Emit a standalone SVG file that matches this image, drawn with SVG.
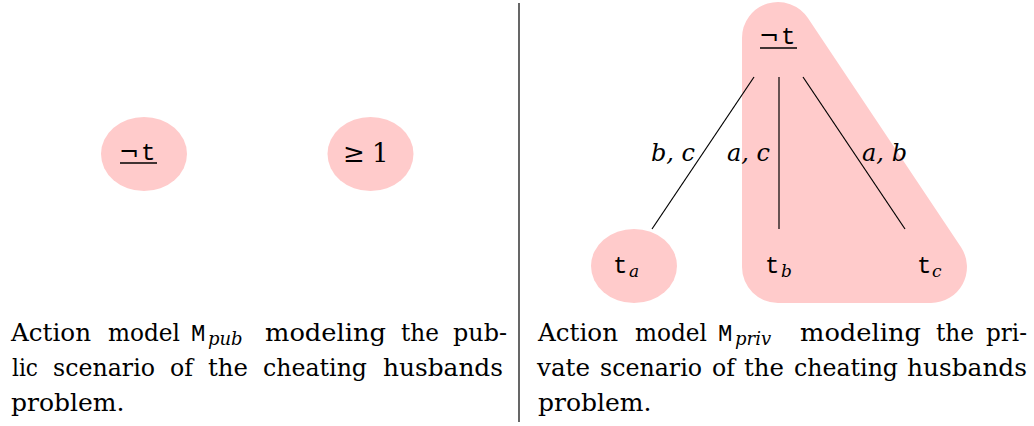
<svg xmlns="http://www.w3.org/2000/svg" width="1034" height="426" viewBox="0 0 1034 426">
<style>
.serif{font-family:"DejaVu Serif","Liberation Serif",serif;font-size:25px;fill:#000}
.it{font-style:italic}
.mono{font-family:"Liberation Mono","DejaVu Sans Mono",monospace;font-size:24px;fill:#000}
.sub{font-family:"DejaVu Serif","Liberation Serif",serif;font-style:italic;font-size:17px;fill:#000}
.csub{font-family:"DejaVu Serif","Liberation Serif",serif;font-style:italic;font-size:18px;fill:#000}
.neg{font-family:"DejaVu Sans",sans-serif;font-size:24px;fill:#000}
.lbl{font-family:"DejaVu Serif","Liberation Serif",serif;font-style:italic;font-size:24px;fill:#000}
.node{fill:#ffcbcb;stroke:none}
.edge{stroke:#000;stroke-width:1.2;fill:none}
.ul{stroke:#000;stroke-width:1.3}
.end{text-anchor:end}
</style>
<rect width="1034" height="426" fill="#fff"/>
<line x1="519" y1="3" x2="519" y2="422" stroke="#000" stroke-width="1.2"/>

<g id="pub-neg">
<ellipse class="node" cx="144" cy="154" rx="43" ry="37"/>
<text class="neg" x="119" y="160">¬</text>
<text class="mono" x="141" y="160">t</text>
<line class="ul" x1="120" y1="163" x2="157" y2="163"/>
</g>
<g id="pub-geq">
<ellipse class="node" cx="370.5" cy="154" rx="43" ry="37"/>
<text class="serif" x="343" y="162" style="font-size:26px">≥</text>
<text class="serif" x="372" y="162" style="font-size:26px">1</text>
</g>

<g id="priv-group">
<path class="node" d="M 742 38 A 36 36 0 0 1 807.9 18 L 960.9 247 A 36 36 0 0 1 931 303 L 778 303 A 36 36 0 0 1 742 267 Z"/>
</g>
<g id="priv-ta">
<ellipse class="node" cx="634" cy="266" rx="43" ry="37"/>
<text class="mono" x="613" y="273">t</text>
<text class="sub" x="629" y="277">a</text>
</g>
<g id="priv-neg">
<text class="neg" x="759" y="44">¬</text>
<text class="mono" x="781" y="44">t</text>
<line class="ul" x1="760" y1="48" x2="797" y2="48"/>
</g>
<g id="priv-tb">
<text class="mono" x="765" y="273">t</text>
<text class="sub" x="781" y="277">b</text>
</g>
<g id="priv-tc">
<text class="mono" x="917" y="273">t</text>
<text class="sub" x="932" y="277">c</text>
</g>

<g id="connectors">
<line class="edge" x1="754" y1="77" x2="652" y2="229"/>
<line class="edge" x1="779" y1="77" x2="779" y2="229"/>
<line class="edge" x1="803" y1="77" x2="905" y2="229"/>
<text class="lbl" x="651" y="161">b,</text>
<text class="lbl end" x="695" y="161">c</text>
<text class="lbl" x="727" y="161">a,</text>
<text class="lbl end" x="770" y="161">c</text>
<text class="lbl" x="862" y="161">a,</text>
<text class="lbl end" x="907" y="161">b</text>
</g>

<g id="caption-pub">
<text class="serif" x="11" y="341" textLength="80" lengthAdjust="spacingAndGlyphs">Action</text>
<text class="serif" x="108" y="341" textLength="72" lengthAdjust="spacingAndGlyphs">model</text>
<text class="mono" x="191" y="341">M</text>
<text class="csub" x="208" y="345">pub</text>
<text class="serif" x="265" y="341" textLength="121" lengthAdjust="spacingAndGlyphs">modeling</text>
<text class="serif" x="401" y="341" textLength="38" lengthAdjust="spacingAndGlyphs">the</text>
<text class="serif" x="453" y="341" textLength="54" lengthAdjust="spacingAndGlyphs">pub-</text>
<text class="serif" x="12" y="376" textLength="26" lengthAdjust="spacingAndGlyphs">lic</text>
<text class="serif" x="53" y="376" textLength="102" lengthAdjust="spacingAndGlyphs">scenario</text>
<text class="serif" x="170" y="376" textLength="23" lengthAdjust="spacingAndGlyphs">of</text>
<text class="serif" x="208" y="376" textLength="40" lengthAdjust="spacingAndGlyphs">the</text>
<text class="serif" x="263" y="376" textLength="104" lengthAdjust="spacingAndGlyphs">cheating</text>
<text class="serif" x="383" y="376" textLength="120" lengthAdjust="spacingAndGlyphs">husbands</text>
<text class="serif" x="11" y="411">problem.</text>
</g>
<g id="caption-priv">
<text class="serif" x="538" y="341" textLength="80" lengthAdjust="spacingAndGlyphs">Action</text>
<text class="serif" x="635" y="341" textLength="72" lengthAdjust="spacingAndGlyphs">model</text>
<text class="mono" x="718" y="341">M</text>
<text class="csub" x="735" y="345">priv</text>
<text class="serif" x="800" y="341" textLength="121" lengthAdjust="spacingAndGlyphs">modeling</text>
<text class="serif" x="936" y="341" textLength="38" lengthAdjust="spacingAndGlyphs">the</text>
<text class="serif" x="986" y="341" textLength="41" lengthAdjust="spacingAndGlyphs">pri-</text>
<text class="serif" x="537" y="376" textLength="53" lengthAdjust="spacingAndGlyphs">vate</text>
<text class="serif" x="600" y="376" textLength="102" lengthAdjust="spacingAndGlyphs">scenario</text>
<text class="serif" x="712" y="376" textLength="23" lengthAdjust="spacingAndGlyphs">of</text>
<text class="serif" x="744" y="376" textLength="40" lengthAdjust="spacingAndGlyphs">the</text>
<text class="serif" x="794" y="376" textLength="104" lengthAdjust="spacingAndGlyphs">cheating</text>
<text class="serif" x="907" y="376" textLength="120" lengthAdjust="spacingAndGlyphs">husbands</text>
<text class="serif" x="538" y="411">problem.</text>
</g>
</svg>
